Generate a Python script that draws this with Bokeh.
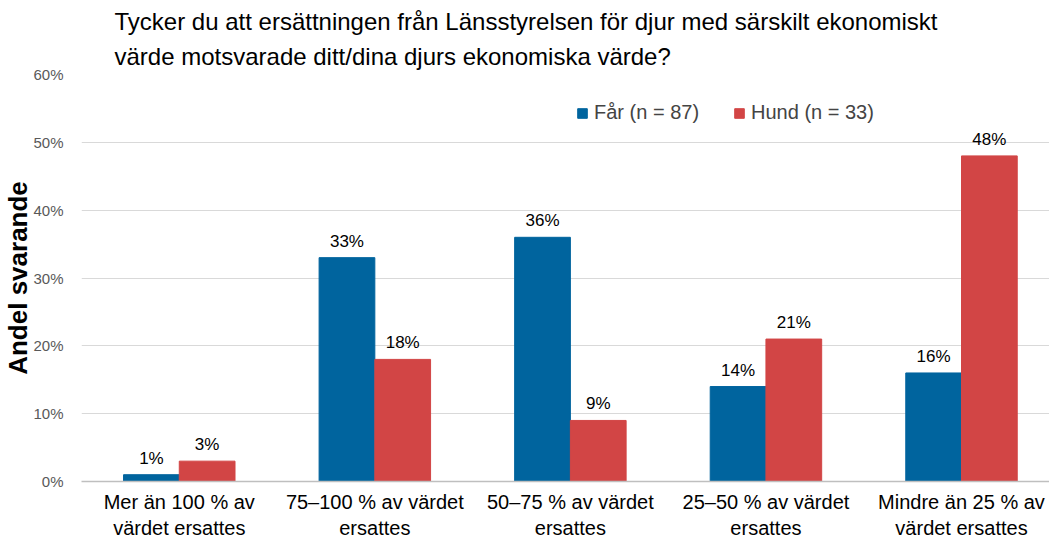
from bokeh.plotting import figure
from bokeh.models import (ColumnDataSource, LabelSet, Legend, LegendItem, Title,
                          FixedTicker, PrintfTickFormatter, Range1d)
from bokeh.core.properties import value
from bokeh.embed import file_html
from bokeh.resources import INLINE

categories = ["Mer än 100 % av\nvärdet ersattes", "75–100 % av värdet\nersattes",
              "50–75 % av värdet\nersattes", "25–50 % av värdet\nersattes",
              "Mindre än 25 % av\nvärdet ersattes"]
far_values = [1, 33, 36, 14, 16]
hund_values = [3, 18, 9, 21, 48]
series_names = ["Får (n = 87)", "Hund (n = 33)"]
y_ticks = [0, 10, 20, 30, 40, 50, 60]

BLUE = "#00649E"
RED = "#D24545"
FONT = "Liberation Sans"
bw = 0.285

xs = list(range(len(categories)))
src_far = ColumnDataSource(dict(x=[i - bw / 2 for i in xs], y=far_values,
                                lab=[f"{v}%" for v in far_values]))
src_hund = ColumnDataSource(dict(x=[i + bw / 2 for i in xs], y=hund_values,
                                 lab=[f"{v}%" for v in hund_values]))

p = figure(frame_width=968, frame_height=407, output_backend="svg", toolbar_location=None,
           x_range=Range1d(-0.5, 4.45), y_range=Range1d(0, 60),
           min_border_left=0, min_border_right=0, min_border_bottom=0, min_border_top=74)
p.outline_line_color = None
p.background_fill_color = "white"

r1 = p.vbar(x="x", top="y", width=bw, source=src_far, color=BLUE)
r2 = p.vbar(x="x", top="y", width=bw, source=src_hund, color=RED)

for s in (src_far, src_hund):
    p.add_layout(LabelSet(x="x", y="y", text="lab", source=s, y_offset=7,
                          text_align="center", text_baseline="bottom",
                          text_font=value(FONT), text_font_size="17px", text_color="#000000"))

# axes
p.xaxis.ticker = FixedTicker(ticks=xs)
p.xaxis.major_label_overrides = {i: c for i, c in enumerate(categories)}
p.xaxis.major_label_text_font = FONT
p.xaxis.major_label_text_font_size = "20px"
p.xaxis.major_label_text_color = "#000000"
p.xaxis.major_tick_line_color = None
p.xaxis.minor_tick_line_color = None
p.xaxis.axis_line_color = "#BFBFBF"
p.xaxis.axis_line_width = 1.5
p.xaxis.major_label_standoff = 3

p.yaxis.ticker = FixedTicker(ticks=y_ticks)
p.yaxis.formatter = PrintfTickFormatter(format="%d%%")
p.yaxis.major_label_text_font = FONT
p.yaxis.major_label_text_font_size = "15px"
p.yaxis.major_label_text_color = "#595959"
p.yaxis.major_tick_line_color = None
p.yaxis.minor_tick_line_color = None
p.yaxis.axis_line_color = None
p.yaxis.major_label_standoff = 12
p.yaxis.axis_label = "Andel svarande"
p.yaxis.axis_label_text_font = FONT
p.yaxis.axis_label_text_font_size = "26px"
p.yaxis.axis_label_text_font_style = "bold"
p.yaxis.axis_label_text_color = "#000000"
p.yaxis.axis_label_standoff = -3

p.xgrid.grid_line_color = None
p.ygrid.grid_line_color = "#D9D9D9"
p.ygrid.grid_line_width = 1

legend = Legend(items=[LegendItem(label=series_names[0], renderers=[r1]),
                       LegendItem(label=series_names[1], renderers=[r2])],
                orientation="horizontal", location=(495, 357),
                label_text_font=FONT, label_text_font_size="20px",
                glyph_width=12, glyph_height=12, spacing=34,
                border_line_color=None, background_fill_alpha=0,
                label_standoff=6)
p.add_layout(legend)

p.add_layout(Title(text="värde motsvarade ditt/dina djurs ekonomiska värde?", align="left",
                   offset=33, text_font=FONT, text_font_size="24px", text_font_style="normal",
                   text_color="#000000", standoff=10), "above")
p.add_layout(Title(text="Tycker du att ersättningen från Länsstyrelsen för djur med särskilt ekonomiskt",
                   align="left", offset=33, text_font=FONT, text_font_size="24px",
                   text_font_style="normal", text_color="#000000", standoff=2), "above")

open("out.html", "w").write(file_html(p, INLINE))
